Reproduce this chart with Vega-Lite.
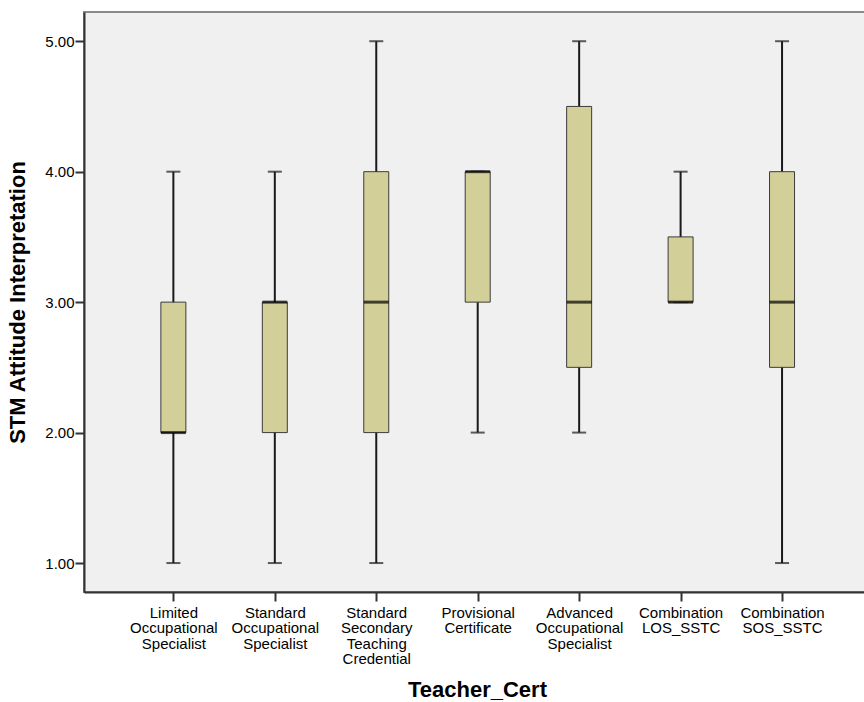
{
  "$schema": "https://vega.github.io/schema/vega-lite/v6.json",
  "autosize": {"type": "none"},
  "padding": {"left": 84, "top": 12, "right": 0, "bottom": 110},
  "width": 786,
  "height": 580,
  "background": "#FFFFFF",
  "data": {
    "values": [
      {"cert": "Limited Occupational Specialist", "min": 1, "q1": 2, "median": 2, "q3": 3, "max": 4},
      {"cert": "Standard Occupational Specialist", "min": 1, "q1": 2, "median": 3, "q3": 3, "max": 4},
      {"cert": "Standard Secondary Teaching Credential", "min": 1, "q1": 2, "median": 3, "q3": 4, "max": 5},
      {"cert": "Provisional Certificate", "min": 2, "q1": 3, "median": 4, "q3": 4, "max": 4},
      {"cert": "Advanced Occupational Specialist", "min": 2, "q1": 2.5, "median": 3, "q3": 4.5, "max": 5},
      {"cert": "Combination LOS_SSTC", "min": 3, "q1": 3, "median": 3, "q3": 3.5, "max": 4},
      {"cert": "Combination SOS_SSTC", "min": 1, "q1": 2.5, "median": 3, "q3": 4, "max": 5}
    ]
  },
  "encoding": {
    "x": {
      "field": "cert",
      "type": "nominal",
      "sort": null,
      "scale": {"type": "point", "padding": 0.874, "align": 0.504},
      "axis": {
        "title": "Teacher_Cert",
        "labelAngle": 0,
        "labelExpr": "split(datum.value, ' ')",
        "labelLineHeight": 15.5,
        "labelPadding": 4,
        "labelBaseline": "top",
        "titlePadding": 13,
        "titleFontSize": 22
      }
    }
  },
  "layer": [
    {
      "mark": {"type": "rule", "color": "#1a1a1a", "strokeWidth": 2},
      "encoding": {
        "y": {
          "field": "min",
          "type": "quantitative",
          "title": "STM Attitude Interpretation",
          "scale": {"domain": [0.778, 5.224], "nice": false, "zero": false},
          "axis": {"title": "STM Attitude Interpretation", "values": [1, 2, 3, 4, 5], "format": ".2f", "labelPadding": 1, "titlePadding": 15, "titleFontSize": 22}
        },
        "y2": {"field": "max"}
      }
    },
    {
      "mark": {"type": "tick", "color": "#1a1a1a", "size": 14, "thickness": 2, "orient": "horizontal"},
      "encoding": {
        "y": {
          "field": "min",
          "type": "quantitative",
          "title": "STM Attitude Interpretation",
          "axis": {"title": "STM Attitude Interpretation", "values": [1, 2, 3, 4, 5], "format": ".2f", "labelPadding": 1, "titlePadding": 15, "titleFontSize": 22}
        }
      }
    },
    {
      "mark": {"type": "tick", "color": "#1a1a1a", "size": 14, "thickness": 2, "orient": "horizontal"},
      "encoding": {
        "y": {
          "field": "max",
          "type": "quantitative",
          "title": "STM Attitude Interpretation",
          "axis": {"title": "STM Attitude Interpretation", "values": [1, 2, 3, 4, 5], "format": ".2f", "labelPadding": 1, "titlePadding": 15, "titleFontSize": 22}
        }
      }
    },
    {
      "mark": {"type": "bar", "size": 25, "fill": "#D3CF98", "stroke": "#3c3c3c", "strokeWidth": 1},
      "encoding": {
        "y": {
          "field": "q1",
          "type": "quantitative",
          "title": "STM Attitude Interpretation",
          "axis": {"title": "STM Attitude Interpretation", "values": [1, 2, 3, 4, 5], "format": ".2f", "labelPadding": 1, "titlePadding": 15, "titleFontSize": 22}
        },
        "y2": {"field": "q3"}
      }
    },
    {
      "mark": {"type": "tick", "color": "#000000", "size": 25, "thickness": 3, "orient": "horizontal"},
      "encoding": {
        "y": {
          "field": "median",
          "type": "quantitative",
          "title": "STM Attitude Interpretation",
          "axis": {"title": "STM Attitude Interpretation", "values": [1, 2, 3, 4, 5], "format": ".2f", "labelPadding": 1, "titlePadding": 15, "titleFontSize": 22}
        }
      }
    }
  ],
  "config": {
    "view": {"fill": "#F0F0F0", "stroke": "#8a8a8a", "strokeWidth": 2},
    "font": "Liberation Sans",
    "axis": {
      "labelFont": "Liberation Sans",
      "labelFontSize": 15,
      "labelColor": "#000000",
      "titleFont": "Liberation Sans",
      "titleFontSize": 21,
      "titleFontWeight": "bold",
      "titleColor": "#000000",
      "domainColor": "#333333",
      "domainWidth": 2,
      "tickColor": "#333333",
      "tickWidth": 2,
      "tickSize": 9,
      "grid": false
    }
  }
}
